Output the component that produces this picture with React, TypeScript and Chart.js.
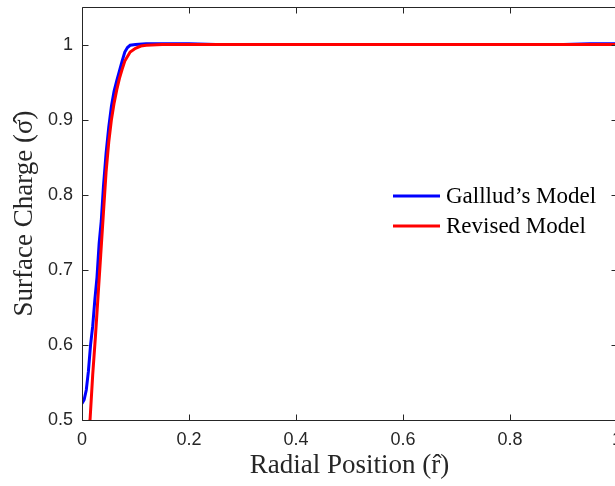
import React, { useEffect, useRef } from "react";
import { Chart, registerables } from "chart.js";

Chart.register(...registerables);

const seriesLabels = ["Galllud\u2019s Model", "Revised Model"];
const seriesColors = ["#0000FF", "#FF0000"];

const galludX = [0, 0.004, 0.008, 0.012, 0.016, 0.02, 0.024, 0.028, 0.032, 0.036, 0.04, 0.045, 0.05, 0.055, 0.06, 0.065, 0.07, 0.075, 0.08, 0.085, 0.09, 0.1, 0.12, 0.15, 0.2, 0.25, 0.3, 0.4, 0.5, 0.6, 0.7, 0.8, 0.9, 0.95, 1.0];
const galludY = [0.522, 0.527, 0.54, 0.565, 0.6, 0.625, 0.66, 0.69, 0.735, 0.765, 0.81, 0.855, 0.89, 0.918, 0.938, 0.952, 0.965, 0.978, 0.99, 0.996, 0.999, 1.0, 1.001, 1.001, 1.001, 1.0, 1.0, 1.0, 1.0, 1.0, 1.0, 1.0, 1.0, 1.001, 1.001];

const revisedX = [0.01, 0.015, 0.02, 0.025, 0.03, 0.035, 0.04, 0.045, 0.05, 0.055, 0.06, 0.065, 0.07, 0.075, 0.08, 0.09, 0.1, 0.11, 0.12, 0.15, 0.2, 0.3, 0.5, 0.7, 0.9, 1.0];
const revisedY = [0.47, 0.5, 0.56, 0.61, 0.665, 0.72, 0.775, 0.83, 0.87, 0.9, 0.922, 0.94, 0.955, 0.967, 0.978, 0.99, 0.995, 0.998, 0.999, 1.0, 1.0, 1.0, 1.0, 1.0, 1.0, 1.0];

const xTicks = [0, 0.2, 0.4, 0.6, 0.8, 1];
const yTicks = [0.5, 0.6, 0.7, 0.8, 0.9, 1];

const xTitle = "Radial Position (r\u0302)";
const yTitle = "Surface Charge (\u03C3\u0302)";

const AXIS = "#262626";

const boxPlugin = {
  id: "boxTicks",
  afterDatasetsDraw(chart: any) {
    const { ctx, chartArea: a, scales } = chart;
    const xs = scales.x;
    const ys = scales.y;
    ctx.save();
    ctx.strokeStyle = AXIS;
    ctx.lineWidth = 1;
    const L = Math.round(a.left) + 0.5;
    const R = Math.round(a.right) + 0.5;
    const T = Math.round(a.top) + 0.5;
    const B = Math.round(a.bottom) + 0.5;
    ctx.beginPath();
    ctx.moveTo(L, T);
    ctx.lineTo(R, T);
    ctx.lineTo(R, B);
    ctx.lineTo(L, B);
    ctx.closePath();
    ctx.stroke();
    const len = 6;
    ctx.beginPath();
    for (const v of xTicks) {
      const px = Math.round(xs.getPixelForValue(v)) + 0.5;
      ctx.moveTo(px, B);
      ctx.lineTo(px, B - len);
      ctx.moveTo(px, T);
      ctx.lineTo(px, T + len);
    }
    for (const v of yTicks) {
      const py = Math.round(ys.getPixelForValue(v)) + 0.5;
      ctx.moveTo(L, py);
      ctx.lineTo(L + len, py);
      ctx.moveTo(R, py);
      ctx.lineTo(R - len, py);
    }
    ctx.stroke();

    // legend
    const lx = a.left + 311;
    const rows = [a.top + 189, a.top + 219];
    ctx.font = "23px 'Liberation Serif', serif";
    ctx.textBaseline = "middle";
    ctx.textAlign = "left";
    chart.data.datasets
      .slice()
      .sort((d1: any, d2: any) => d1.legendIndex - d2.legendIndex)
      .forEach((ds: any, i: number) => {
        const y = rows[i];
        ctx.strokeStyle = ds.borderColor;
        ctx.lineWidth = 3;
        ctx.beginPath();
        ctx.moveTo(lx, y);
        ctx.lineTo(lx + 47, y);
        ctx.stroke();
        ctx.fillStyle = "#000000";
        ctx.fillText(ds.label, lx + 53, y + 1);
      });
    ctx.restore();
  },
};

export default function App() {
  const ref = useRef<HTMLCanvasElement | null>(null);

  useEffect(() => {
    const canvas = ref.current;
    if (!canvas) return;
    const chart = new Chart(canvas, {
      type: "line",
      data: {
        datasets: [
          {
            label: seriesLabels[0],
            legendIndex: 0,
            data: galludX.map((x, i) => ({ x, y: galludY[i] })),
            borderColor: seriesColors[0],
            backgroundColor: seriesColors[0],
            borderWidth: 3,
            pointRadius: 0,
            tension: 0,
            order: 1,
            clip: 0,
          } as any,
          {
            label: seriesLabels[1],
            legendIndex: 1,
            data: revisedX.map((x, i) => ({ x, y: revisedY[i] })),
            borderColor: seriesColors[1],
            backgroundColor: seriesColors[1],
            borderWidth: 3,
            pointRadius: 0,
            tension: 0,
            order: 0,
            clip: 0,
          } as any,
        ],
      },
      options: {
        responsive: false,
        animation: false,
        events: [],
        layout: { padding: { top: 7, right: 23, bottom: 0, left: 0 } },
        plugins: {
          legend: { display: false },
          tooltip: { enabled: false },
          title: { display: false },
        },
        scales: {
          x: {
            type: "linear",
            min: 0,
            max: 1,
            afterBuildTicks: (s: any) => {
              s.ticks = xTicks.map((v) => ({ value: v }));
            },
            afterFit: (s: any) => {
              s.height = 66;
              s.paddingLeft = 0;
              s.paddingRight = 0;
            },
            grid: { display: true, drawOnChartArea: false, drawTicks: false },
            border: { display: false },
            ticks: {
              padding: 9,
              color: AXIS,
              font: { family: "'Liberation Sans', Arial, sans-serif", size: 18 },
              maxRotation: 0,
              autoSkip: false,
              callback: (v: any) => String(Number(Number(v).toFixed(1))),
            },
            title: {
              display: true,
              text: xTitle,
              color: AXIS,
              font: { family: "'Liberation Serif', serif", size: 27 },
              padding: { top: 4, bottom: 4 },
            },
          },
          y: {
            type: "linear",
            min: 0.5,
            max: 1.05,
            afterBuildTicks: (s: any) => {
              s.ticks = yTicks.map((v) => ({ value: v }));
            },
            afterFit: (s: any) => {
              s.width = 82;
              s.paddingTop = 0;
              s.paddingBottom = 0;
            },
            grid: { display: true, drawOnChartArea: false, drawTicks: false },
            border: { display: false },
            ticks: {
              padding: 9,
              color: AXIS,
              font: { family: "'Liberation Sans', Arial, sans-serif", size: 18 },
              autoSkip: false,
              callback: (v: any) => String(Number(Number(v).toFixed(1))),
            },
            title: {
              display: true,
              text: yTitle,
              color: AXIS,
              font: { family: "'Liberation Serif', serif", size: 27 },
              padding: { top: 9, bottom: 9 },
            },
          },
        },
      } as any,
      plugins: [boxPlugin],
    });
    return () => chart.destroy();
  }, []);

  return (
    <div
      style={{
        position: "fixed",
        left: 0,
        top: 0,
        width: 615,
        height: 486,
        overflow: "hidden",
        background: "#ffffff",
      }}
    >
      <canvas ref={ref} width={640} height={486} style={{ display: "block", width: 640, height: 486 }} />
    </div>
  );
}
